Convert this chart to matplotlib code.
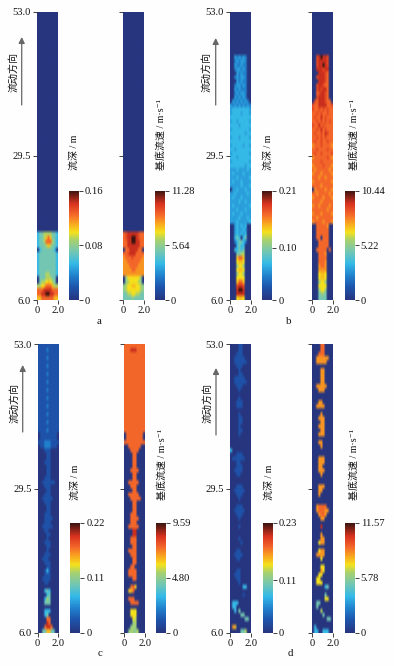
# -*- coding: utf-8 -*-
# flow depth and bed velocity along the channel, four cases a-d
import numpy as np
import matplotlib
matplotlib.use('Agg')
import matplotlib.pyplot as plt
from matplotlib.colors import LinearSegmentedColormap

plt.rcParams['font.family'] = ['Liberation Serif', 'Noto Sans CJK SC', 'DejaVu Sans']

W, H = 394, 666

# max values of each colorbar and the middle tick
depth_max = [0.16, 0.21, 0.22, 0.23]
depth_mid = [0.08, 0.10, 0.11, 0.11]
vel_max = [11.28, 10.44, 9.59, 11.57]
vel_mid = [5.64, 5.22, 4.80, 5.78]
y_ticks = [6.0, 29.5, 53.0]
x_ticks = [0, 2.0]

# level on colorbar (0-9, letters are the in-between ones),
# top of channel first, 72 rows of 10 cells
half_levels = {'c': 2.5, 'g': 4.5, 'y': 5.6, 'a': 6.5, 'b': 7.5}
e = "0000000000"
a_depth = [e]*55 + [
    "3445555443", "3445676443", "3445777543", "3444565443", "0344444430",
    "3444444443", "3444444443", "3444444443", "3444444443", "3444444443",
    "3444554443", "0444555440", "0455y6y540", "55y6777655", "7778888777",
    "7788998877", "6677777766"]
a_vel = [e]*55 + [
    "7b88888b77", "7b88998b77", "7788998877", "7788888877", "0778888770",
    "77b8887777", "a777b7777a", "aa777777aa", "aaa7777aaa", "aaaa77aaaa",
    "aaaaaaaaaa", "0gyyyyyyg0", "0g5yyyy5g0", "g5yy66yy5g", "g5yyyyyy5g",
    "4455yy5544", "4444g44444"]
b_depth = [e]*11 + [
    "00c2c2c200", "002c2cc200", "00c22c2200", "002cc2c200", "000c2c2200",
    "002c2cc200", "000c2c2200", "002cc2c200", "00c2c22200", "002c2cc200",
    "00c2c2c200", "0c2c2c2c20", "c2c2c2c2c2",
    "c33333333c", "c3333c333c", "3333333333", "c33c33333c", "3333c33333",
    "c33333333c", "3333333c33", "c333c3333c", "3333333333", "c33333c33c",
    "33c3333333", "c33333333c", "333c333333", "c33333333c", "3333333c33",
    "ccc3cccc3c", "c3cccc3ccc", "ccc3ccccc3", "c3ccc3cccc", "ccccc3ccc3",
    "0cc3ccc3cc", "cc3ccccc3c", "c3ccc3cccc", "cccc3cc3cc", "c3ccccccc3",
    "ccc3ccc3cc", "c3ccc3cccc", "cccc3ccc3c", "ccc3ccccc3",
    "00c3c3c300", "00c3cc3c00", "00c3c3c300", "0034303400", "0023443200",
    "0003433000", "0033434000", "0004455000", "0006776000", "000y66y000",
    "000gyyg000", "000y66y000", "000gyyg000", "000yyyy000", "0006776000",
    "000b88b000", "0008998000", "0008888000", "000y66y000"]
b_vel = [e]*11 + [
    "00b8988b00", "00b8888b00", "00b8898b00", "00888b8800", "000888b700",
    "00b888b700", "000888b700", "00b88b7700", "00b8b88700", "007b88b700",
    "00b888b700", "0b7888b770", "b77888877b",
    "b77b7b7b77", "77b7b77b77", "7b7787b777", "77b7b7b7b7", "b7787b7777",
    "77b787b777", "7b77b78b77", "77b7b7b777", "7b77b77b77", "a777b7777a",
    "77b7777b77", "7b77b7777b", "a777777b7a", "7777b77777", "a7777b777a",
    "7a777777a7", "a777a7777a", "777a77a777", "a77777777a", "7777a77777",
    "0a7777a77a", "77a77777a7", "a7777a777a", "7777a77777", "a77a7777a7",
    "7777777a77", "a777a7777a", "77a7777777", "a7777a777a",
    "0077777a00", "0077777700", "0077777700", "0077077700", "0007777700",
    "0007777700", "0077777070", "000777a000", "0007777000", "000777a000",
    "000a77a000", "000aaaa000", "000y66y000", "000y66y000", "000gyyg000",
    "000yyyy000", "000gyyg000", "0004gg4000", "0004444000"]
c_depth = ["1111111111", "1111211111"]*11 + [
    "0111111110", "0111111110", "1112221111", "0112221110", "0001110000",
    "0000110000", "0000110000", "0001110000", "0000110000", "0000110000",
    "0000110000", "0001110000", "0011111100", "0001110000", "0000110000",
    "0001110000", "0011111000", "0001110000", "0000110000", "0000110000",
    "0001110000", "0001111000", "0001110000", "0011111000", "0001100000",
    "0000110000", "0000100000", "0001110000", "0000110000", "0000100000",
    "0001110000", "0011100000", "0001110000", "0000110000", "0001310000",
    "0001110000", "0011110000", "0001100000", e, "0003430000",
    "0000340000", "0003540000", "0004440000", e, "0003330000",
    "0003400000", "0000770000", "0000870000", "0007887000", "0044664400"]
c_vel = ["7777777777", "7778887777"] + ["7777777777"]*20 + [
    "0777777770", "0777777770", "7777777777", "0077777700", "0007777000",
    "0000770000", "0000770000", "0000770000", "0000770000", "0007777000",
    "0000770000", "0000770000", "0077777000", "0007770000", "0000770000",
    "0077777000", "0007777700", "0000770000", "0000770000", "0000770000",
    "0007770000", "0007777000", "0007770000", "0077777000", "0000880000",
    "0000880000", "0007770000", "0007770000", "0000770000", "0077770000",
    "0007770000", "0000770000", "0000770000", "0007700000", "0077770000",
    "0077770000", "0000770000", e, "0007760000", "0066700000",
    e, "0077700000", "0007777000", e, "000yyy0000",
    "000yyy0000", "0000y50000", "0000g50000", "000g5g0000", "00g5gg5000"]
d_depth = [
    "0000110000", "0000110000", "0001110000", "0011111000", "0011111100",
    "0001110000", "0000100000", "0000110000", "0011111000", "0011111100",
    "0001110000", "0000100000", e, "0000100000", "0001110000",
    "0001110000", e, "0000100000", "0000110000", "0000110000",
    "0000100000", "0000110000", "0000100000", e, e,
    e, "3000000000", "0001110000", "0111111000", "0001100000",
    "0001110000", "0011110000", "0001100000", e, e,
    "0001110000", "0011111000", "0001110000", "0000100000", e,
    "0001110000", "0011111000", "0001110000", "0000100000", e,
    "0000100000", e, e, "0000100000", "0000010000",
    e, "0001100000", "0011110000", "0001100000", e,
    e, "0001100000", "0011100000", "0001100000", "0000100000",
    "0000003300", e, "0000001000", e, "0333000000",
    "0330000000", "0030400000", "0000044000", "0000000440", e,
    "0a60000000", "0000044500"]
d_vel = [
    "0000770000", "0000770000", "0007770000", "00aaaaaa00", "00aaaaa000",
    e, "0000aa0000", "0000aa0000", "0000aa0000", "0000aa0000",
    "00aaaaa000", "000aaa0000", e, e, "000aa00000",
    "00aaaa0000", e, "0000a00000", "000aaa0000", "0000aa0000",
    "000aaa0000", "0000aa0000", "000aaa0000", e, "000aa00000",
    "0000a00000", e, e, "000aaa0000", "000aaa0000",
    "000aa00000", "000aaa0000", "0000a00000", e, e,
    "000aaa0000", "000aa00000", "000a000000", e, e,
    "00a7777000", "00a777aa00", "000a77a000", "0000aa0000", e,
    "0000800000", e, "0000a00000", "0000aa0000", "000yaa0000",
    e, "000yaa0000", "00aaaa0000", "0000y00000", e,
    "0000yy0000", "0000ay0000", "000yy00000", "00yy000000", "00yyy00000",
    "0000003400", e, "0000004000", "000000yy00", "0044000000",
    "0040000000", "0000500000", "0000040000", "0000000440", e,
    "0300000000", "0330033300"]

depth_fields = [a_depth, b_depth, c_depth, d_depth]
vel_fields = [a_vel, b_vel, c_vel, d_vel]

cmap = LinearSegmentedColormap.from_list('flow', [
    (0.00, '#27357f'), (0.12, '#1d55ac'), (0.22, '#2180cc'), (0.33, '#33b9e8'),
    (0.44, '#72c6b4'), (0.55, '#a9d16c'), (0.62, '#f4e21c'), (0.70, '#f9a51f'),
    (0.78, '#f4672a'), (0.88, '#d8321f'), (1.00, '#3a1410')])


def box(x0, y0, x1, y1):
    return plt.gcf().add_axes([x0/W, 1-y1/H, (x1-x0)/W, (y1-y0)/H])


def put(x, y, s, **kw):
    plt.gcf().text(x/W, 1-y/H, s, **kw)


def cell(c):
    return half_levels[c] if c in half_levels else int(c)


def strip(x0, top, bottom, rows, vmax, labels):
    ax = box(x0, top, x0+20.7, bottom)
    assert len(rows) == 72, len(rows)
    levels = np.array([[cell(c) for c in r] for r in rows])/9*vmax
    im = ax.imshow(levels, extent=(0, 2, 6, 53), aspect='auto', cmap=cmap, vmin=0, vmax=vmax,
                   interpolation='bilinear', interpolation_stage='rgba')
    for s in ax.spines.values():
        s.set_visible(False)
    ax.set_xticks(x_ticks)
    ax.set_yticks(y_ticks)
    ax.set_xticklabels(['0', '2.0'])
    if labels:
        ax.set_yticklabels(['6.0', '29.5', '53.0'])
    else:
        ax.set_yticklabels([])
    ax.tick_params(length=3.2, width=0.6, labelsize=7.6, pad=1, color='#222222', labelcolor='#111111')
    return im


def bar(im, x0, top, bottom, mid, vmax):
    cax = box(x0, top, x0+10, bottom)
    cb = plt.gcf().colorbar(im, cax=cax, ticks=[0, mid, vmax])
    cb.outline.set_visible(False)
    cb.ax.set_yticklabels(['0', '%.2f' % mid, '%.2f' % vmax])
    cb.ax.tick_params(length=3.2, width=0.6, labelsize=7.6, pad=1, color='#222222', labelcolor='#111111')


fig = plt.figure(figsize=(W/100, H/100), dpi=100, facecolor='#fefefe')

strip_x = [(37, 123), (230, 312.3), (37.7, 124), (230, 312.3)]
bar_x = [(69, 155), (262.3, 344.7), (70.3, 156.3), (262.7, 344.7)]
rows_y = [(11.5, 300, 190.5), (11.5, 300, 190.5), (344.3, 632.7, 523), (344.3, 632.7, 523)]
arrow_x = [21.7, 215.7, 22.7, 216]
arrow_y = [(105, 37), (105, 38), (432, 365), (435, 368)]
dir_x = [14, 207, 15, 208]
dir_y = [72, 72, 403, 403]
depth_lx = [74, 268, 75, 269]
vel_lx = [160.7, 354, 162, 354]
lab_y = [170, 170, 500, 500]
letter_xy = [(99, 322), (289, 322), (100, 653), (290, 653)]
letters = ['a', 'b', 'c', 'd']

for i in range(4):
    top, bottom, cb_top = rows_y[i]
    im = strip(strip_x[i][0], top, bottom, depth_fields[i], depth_max[i], True)
    bar(im, bar_x[i][0], cb_top, bottom, depth_mid[i], depth_max[i])
    im = strip(strip_x[i][1], top, bottom, vel_fields[i], vel_max[i], False)
    bar(im, bar_x[i][1], cb_top, bottom, vel_mid[i], vel_max[i])

    put(depth_lx[i], lab_y[i], '流深 / m', rotation=90, ha='center', va='bottom', fontsize=7.2, color='#111111')
    put(vel_lx[i], lab_y[i], '基底流速 / m·s⁻¹', rotation=90, ha='center', va='bottom', fontsize=7.2, color='#111111')
    put(dir_x[i], dir_y[i], '流动方向', rotation=90, ha='center', va='center', fontsize=7.2, color='#111111')
    put(letter_xy[i][0], letter_xy[i][1], letters[i], ha='center', va='center', fontsize=7.8, color='#111111')
    fig.axes[0].annotate('', xy=(arrow_x[i]/W, 1-arrow_y[i][1]/H), xytext=(arrow_x[i]/W, 1-arrow_y[i][0]/H),
                         xycoords='figure fraction', textcoords='figure fraction',
                         arrowprops=dict(arrowstyle='-|>', color='#666666', lw=0.9, mutation_scale=9,
                                         shrinkA=0, shrinkB=0), annotation_clip=False)

plt.savefig('out.png', dpi=100, facecolor=fig.get_facecolor())
